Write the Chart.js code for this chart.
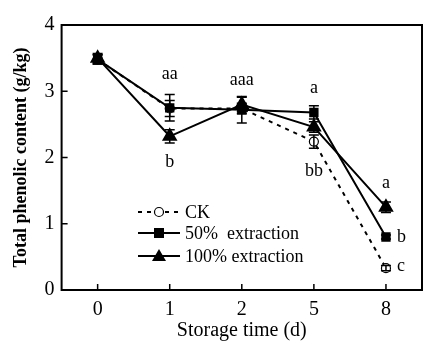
<!DOCTYPE html>
<html><head><meta charset="utf-8">
<script src="https://cdn.jsdelivr.net/npm/chart.js@4.4.0/dist/chart.umd.min.js"></script>
<style>html,body{margin:0;padding:0;background:#fff}#w{width:431px;height:351px}</style>
</head><body><div id="w"><canvas id="c" width="431" height="351"></canvas></div>
<script>
const categories = ['0','1','2','5','8'];
const yTicks = [0,1,2,3,4];
const ckValues = [3.48, 2.74, 2.74, 2.24, 0.33];
const ckErr    = [0.07, 0.12, 0.08, 0.10, 0.04];
const p50Values = [3.48, 2.75, 2.72, 2.68, 0.80];
const p50Err    = [0.07, 0.20, 0.20, 0.10, 0.03];
const p100Values = [3.50, 2.32, 2.80, 2.46, 1.25];
const p100Err    = [0.07, 0.10, 0.11, 0.08, 0.08];
const seriesNames = ['CK', '50%  extraction', '100% extraction'];
// letter labels: [categoryIndex, value, text, dxPixels, dyPixels]
const letterLabels = [
  [1, 2.75, 'aa', 0, -34],
  [1, 2.32, 'b', 0, 26],
  [2, 2.80, 'aaa', 0, -24],
  [3, 2.68, 'a', 0, -24],
  [3, 2.24, 'bb', 0, 30],
  [4, 1.25, 'a', 0, -24],
  [4, 0.80, 'b', 11, 0],
  [4, 0.33, 'c', 11, -2]
];

const FONT = '"Liberation Serif", "Times New Roman", serif';

const errPlugin = {
  id: 'errbars',
  afterDatasetsDraw(chart) {
    const ctx = chart.ctx, x = chart.scales.x, y = chart.scales.y;
    const sets = [[ckValues, ckErr], [p50Values, p50Err], [p100Values, p100Err]];
    ctx.save();
    ctx.strokeStyle = '#000'; ctx.lineWidth = 1.5;
    sets.forEach(([v, e]) => {
      v.forEach((val, i) => {
        const px = x.getPixelForValue(i);
        const t = y.getPixelForValue(val + e[i]), b = y.getPixelForValue(val - e[i]);
        ctx.beginPath();
        ctx.moveTo(px, t); ctx.lineTo(px, b);
        ctx.moveTo(px - 5, t); ctx.lineTo(px + 5, t);
        ctx.moveTo(px - 5, b); ctx.lineTo(px + 5, b);
        ctx.stroke();
      });
    });
    // letters
    ctx.fillStyle = '#000';
    ctx.font = '18px ' + FONT;
    ctx.textBaseline = 'middle';
    letterLabels.forEach(([i, v, t, dx, dy]) => {
      let px = x.getPixelForValue(i) + dx, py = y.getPixelForValue(v) + dy;
      ctx.textAlign = dx > 0 ? 'left' : 'center';
      ctx.fillText(t, px, py);
    });
    // frame and inward ticks
    const a = chart.chartArea;
    ctx.lineWidth = 2;
    ctx.strokeRect(a.left, a.top, a.right - a.left, a.bottom - a.top);
    ctx.lineWidth = 1.5;
    ctx.beginPath();
    categories.forEach((c, i) => {
      const px = x.getPixelForValue(i);
      ctx.moveTo(px, a.bottom); ctx.lineTo(px, a.bottom - 6);
    });
    yTicks.forEach(v => {
      const py = y.getPixelForValue(v);
      ctx.moveTo(a.left, py); ctx.lineTo(a.left + 6, py);
    });
    ctx.stroke();
    // legend
    const lx = 138, ly = [212, 233, 256];
    ctx.font = '18px ' + FONT; ctx.textAlign = 'left';
    ctx.lineWidth = 2;
    ly.forEach((yy, k) => {
      ctx.beginPath();
      if (k === 0) ctx.setLineDash([4, 5]); else ctx.setLineDash([]);
      ctx.moveTo(lx, yy); ctx.lineTo(lx + 42, yy); ctx.stroke();
      ctx.setLineDash([]);
      const cx = lx + 21;
      if (k === 0) {
        ctx.fillStyle = '#fff'; ctx.beginPath(); ctx.arc(cx, yy, 4.5, 0, Math.PI * 2); ctx.fill();
        ctx.lineWidth = 1.2; ctx.stroke(); ctx.lineWidth = 2;
      } else if (k === 1) {
        ctx.fillStyle = '#000'; ctx.fillRect(cx - 5, yy - 5, 10, 10);
      } else {
        ctx.fillStyle = '#000'; ctx.beginPath();
        ctx.moveTo(cx, yy - 7); ctx.lineTo(cx + 7, yy + 5); ctx.lineTo(cx - 7, yy + 5); ctx.closePath(); ctx.fill();
      }
      ctx.fillStyle = '#000';
      ctx.fillText(seriesNames[k], lx + 47, yy + 1);
    });
    ctx.restore();
  }
};

new Chart(document.getElementById('c'), {
  type: 'line',
  data: {
    labels: categories,
    datasets: [
      { label: seriesNames[0], data: ckValues, borderColor: '#000', borderWidth: 2, borderDash: [4, 5],
        pointStyle: 'circle', pointRadius: 4.5, pointBackgroundColor: '#fff', pointBorderColor: '#000', pointBorderWidth: 1.2, order: 3 },
      { label: seriesNames[1], data: p50Values, borderColor: '#000', borderWidth: 2,
        pointStyle: 'rect', pointRadius: 5.2, pointBackgroundColor: '#000', pointBorderColor: '#000', order: 2 },
      { label: seriesNames[2], data: p100Values, borderColor: '#000', borderWidth: 2,
        pointStyle: 'triangle', pointRadius: 7, pointBackgroundColor: '#000', pointBorderColor: '#000', order: 1 }
    ]
  },
  options: {
    responsive: false, animation: false, devicePixelRatio: 1,
    layout: { padding: { left: 6, right: 7, top: 25, bottom: 11 } },
    plugins: { legend: { display: false }, tooltip: { enabled: false } },
    scales: {
      x: {
        offset: true,
        grid: { display: false, drawTicks: false },
        border: { display: false },
        ticks: { color: '#000', font: { family: FONT, size: 20 }, padding: 8 },
        title: { display: true, text: 'Storage time (d)', color: '#000', font: { family: FONT, size: 20, lineHeight: 0.9 }, padding: { top: -8, bottom: 0 } }
      },
      y: {
        min: 0, max: 4,
        afterBuildTicks(s) { s.ticks = yTicks.map(v => ({ value: v })); },
        grid: { display: false, drawTicks: false },
        border: { display: false },
        ticks: { color: '#000', font: { family: FONT, size: 20 }, padding: 7 },
        title: { display: true, text: 'Total phenolic content (g/kg)', color: '#000', font: { family: FONT, size: 18, weight: 'bold' }, padding: { top: 5, bottom: 5 } }
      }
    }
  },
  plugins: [errPlugin]
});
</script>
</body></html>
